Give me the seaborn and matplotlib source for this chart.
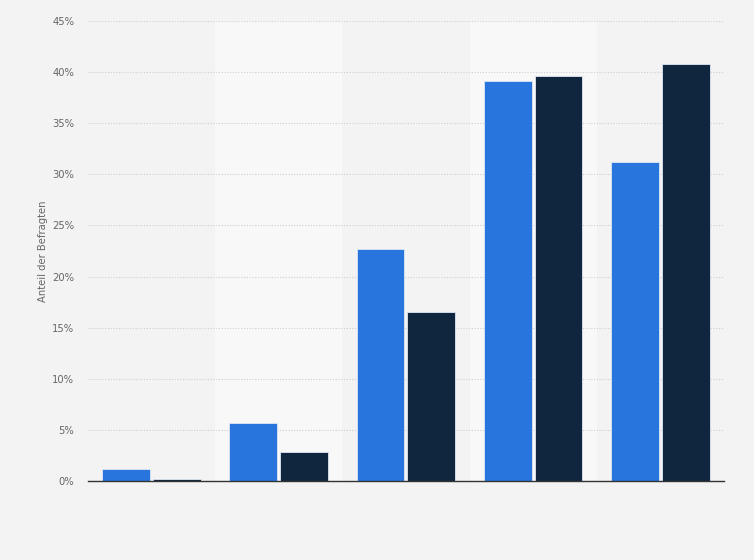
import pandas as pd
import matplotlib.pyplot as plt
import seaborn as sns
from matplotlib.ticker import FuncFormatter

# Data (in percent)
categories = ["A", "B", "C", "D", "E"]
series_names = ["Serie 1", "Serie 2"]
series_1 = [1.2, 5.7, 22.7, 39.1, 31.2]
series_2 = [0.2, 2.8, 16.5, 39.6, 40.8]
y_ticks = [0, 5, 10, 15, 20, 25, 30, 35, 40, 45]

df = pd.DataFrame({
    "Kategorie": categories * 2,
    "Serie": [series_names[0]] * len(categories) + [series_names[1]] * len(categories),
    "Wert": series_1 + series_2,
})

sns.set_style("white")
plt.rcParams["font.family"] = ["DejaVu Sans"]

bg = "#f3f3f3"
fig = plt.figure(figsize=(7.54, 5.6), dpi=100, facecolor=bg)
ax = fig.add_axes([0.1167, 0.141, 0.8433, 0.8215])
ax.set_facecolor(bg)

# alternating column bands
for i in range(len(categories)):
    if i % 2 == 1:
        ax.axvspan(i - 0.5, i + 0.5, color="#f8f8f8", zorder=0, lw=0)

sns.barplot(data=df, x="Kategorie", y="Wert", hue="Serie",
            palette=["#2876dd", "#10263f"], saturation=1, width=0.8, gap=0.06,
            edgecolor="#dfe7f3", linewidth=0.6, legend=False, ax=ax, zorder=3)

ax.set_xlim(-0.5, len(categories) - 0.5)
ax.set_ylim(0, 45)
ax.set_yticks(y_ticks)
ax.yaxis.set_major_formatter(FuncFormatter(lambda v, p: f"{v:.0f}%"))
ax.grid(axis="y", linestyle=(0, (1, 1.5)), color="#cfcfcf", linewidth=0.8, zorder=1)
ax.set_axisbelow(True)

ax.set_xticks(range(len(categories)))
ax.set_xticklabels([""] * len(categories))
ax.tick_params(axis="x", length=0)
ax.tick_params(axis="y", length=0, labelsize=7.2, labelcolor="#666666", pad=10)

for s in ["top", "right", "left"]:
    ax.spines[s].set_visible(False)
ax.spines["bottom"].set_color("#333333")
ax.spines["bottom"].set_linewidth(1.0)
ax.spines["bottom"].set_zorder(5)

ax.set_xlabel("")
ax.set_ylabel("Anteil der Befragten", fontsize=7.2, color="#666666", labelpad=3)

fig.savefig("out.png", dpi=100, facecolor=bg)
